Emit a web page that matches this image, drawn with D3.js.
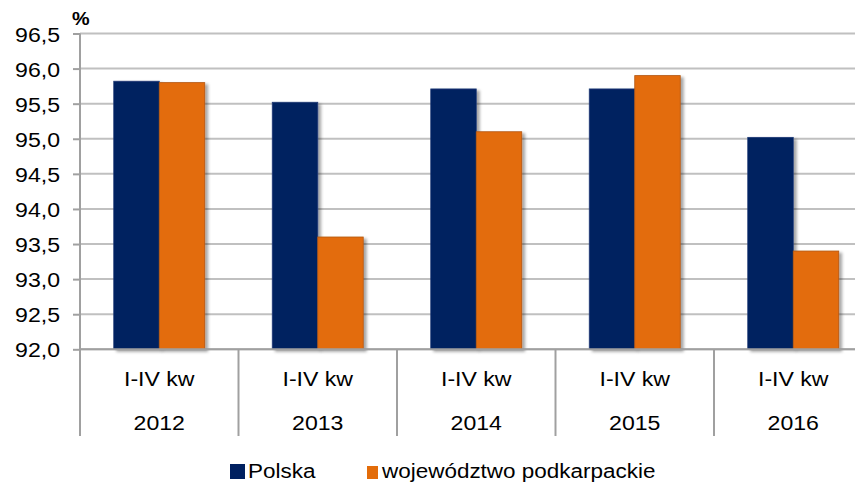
<!DOCTYPE html>
<html>
<head>
<meta charset="utf-8">
<script src="https://cdn.jsdelivr.net/npm/d3@7"></script>
<style>
  html, body { margin: 0; padding: 0; background: #fff; }
  svg { display: block; font-family: "Liberation Sans", Arial, sans-serif; }
</style>
</head>
<body>
<svg id="chart" width="855" height="483"></svg>
<script>
// Wskaźnik (%) — Polska vs województwo podkarpackie, I-IV kw 2012–2016
const years = ["2012", "2013", "2014", "2015", "2016"];
const periodLabel = "I-IV kw";
const seriesNames = ["Polska", "województwo podkarpackie"];
const polska = [95.82, 95.52, 95.71, 95.71, 95.02];
const podkarpackie = [95.8, 93.6, 95.1, 95.9, 93.4];
const yTicks = [92.0, 92.5, 93.0, 93.5, 94.0, 94.5, 95.0, 95.5, 96.0, 96.5];
const colors = ["#002060", "#E36C09"];
const strokes = ["#1d3a75", "#b3560c"];

const rows = years.map((y, i) => ({ year: y, values: [polska[i], podkarpackie[i]] }));

const svg = d3.select("#chart");
const plotLeft = 80, plotRight = 872.5, plotTop = 33.5, plotBottom = 349.3, axisEnd = 436;
const sx = 1.1; // horizontal text stretch

const defs = svg.append("defs");
const f = defs.append("filter").attr("id", "shadow")
  .attr("x", "-20%").attr("y", "-20%").attr("width", "150%").attr("height", "150%");
f.append("feDropShadow").attr("dx", 3).attr("dy", 2).attr("stdDeviation", 1.8)
  .attr("flood-color", "#000").attr("flood-opacity", 0.35);

const y = d3.scaleLinear().domain([92, 96.5]).range([plotBottom, plotTop]);
const x0 = d3.scaleBand().domain(years).range([plotLeft, plotRight]).padding(0);
const x1 = d3.scaleBand().domain([0, 1]).range([0, x0.bandwidth()])
  .paddingInner(0).paddingOuter(0.742);

const fmt = v => d3.format(".1f")(v).replace(".", ",");

// gridlines
svg.append("g").selectAll("line").data(yTicks).join("line")
  .attr("x1", plotLeft).attr("x2", plotRight)
  .attr("y1", d => y(d)).attr("y2", d => y(d))
  .attr("stroke", "#c0c0c0").attr("stroke-width", 2);

// bars
const groups = svg.append("g").selectAll("g").data(rows).join("g")
  .attr("transform", d => `translate(${x0(d.year)},0)`);
groups.selectAll("rect").data(d => d.values.map((v, k) => ({ v, k }))).join("rect")
  .attr("x", d => x1(d.k))
  .attr("y", d => y(d.v))
  .attr("width", x1.bandwidth())
  .attr("height", d => y(92) - y(d.v))
  .attr("fill", d => colors[d.k])
  .attr("stroke", d => strokes[d.k])
  .attr("stroke-width", 0.8)
  .attr("filter", "url(#shadow)");

// y axis
const yAxis = svg.append("g").attr("transform", `translate(${plotLeft},0)`)
  .call(d3.axisLeft(y).tickValues(yTicks).tickFormat(fmt).tickSize(7).tickPadding(0));
yAxis.select(".domain").remove();
yAxis.selectAll(".tick line").attr("stroke", "#a0a0a0").attr("stroke-width", 2);
yAxis.selectAll(".tick text")
  .attr("x", -20 / sx).attr("dy", "0.36em")
  .attr("transform", `scale(${sx},1)`)
  .attr("font-size", 21).attr("fill", "#000");
svg.append("line").attr("x1", plotLeft).attr("x2", plotLeft).attr("y1", plotTop).attr("y2", axisEnd)
  .attr("stroke", "#a0a0a0").attr("stroke-width", 2);

// category axis baseline and dividers
svg.append("line").attr("x1", plotLeft).attr("x2", plotRight)
  .attr("y1", plotBottom).attr("y2", plotBottom)
  .attr("stroke", "#a0a0a0").attr("stroke-width", 2);
const bounds = years.map(d => x0(d)).concat([x0.range()[1]]);
svg.append("g").selectAll("line").data(bounds.slice(1)).join("line")
  .attr("x1", d => d).attr("x2", d => d)
  .attr("y1", plotBottom).attr("y2", axisEnd)
  .attr("stroke", "#a0a0a0").attr("stroke-width", 2);

// category labels (two levels)
const cat = svg.append("g").selectAll("g").data(years).join("g")
  .attr("transform", d => `translate(${x0(d) + x0.bandwidth() / 2},0)`);
cat.append("text").text(periodLabel)
  .attr("transform", `translate(0,386) scale(${sx},1)`)
  .attr("text-anchor", "middle").attr("font-size", 21).attr("fill", "#000");
cat.append("text").text(d => d)
  .attr("transform", `translate(0,430) scale(${sx},1)`)
  .attr("text-anchor", "middle").attr("font-size", 21).attr("fill", "#000");

// unit label
svg.append("text").text("%")
  .attr("transform", `translate(72,25) scale(${sx},1)`)
  .attr("font-size", 18).attr("font-weight", "bold").attr("fill", "#000");

// legend
const legend = svg.append("g");
const legendItems = [
  { name: seriesNames[0], color: colors[0], sq: [230, 464, 15, 15], tx: 248 },
  { name: seriesNames[1], color: colors[1], sq: [367, 466, 11, 13], tx: 382 }
];
legendItems.forEach(it => {
  legend.append("rect")
    .attr("x", it.sq[0]).attr("y", it.sq[1]).attr("width", it.sq[2]).attr("height", it.sq[3])
    .attr("fill", it.color);
  legend.append("text").text(it.name)
    .attr("transform", `translate(${it.tx},478) scale(1.07,1)`)
    .attr("font-size", 21).attr("fill", "#000");
});
</script>
</body>
</html>
